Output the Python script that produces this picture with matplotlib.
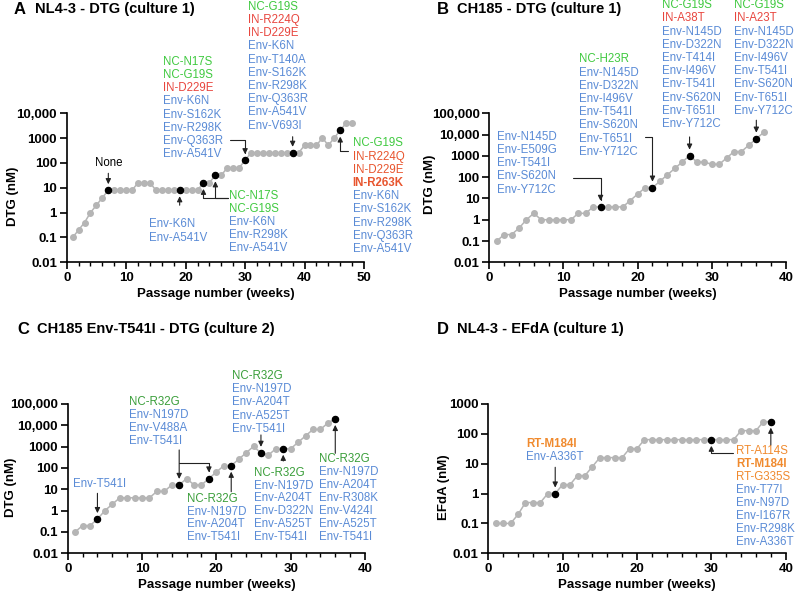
import numpy as np
from matplotlib import pyplot as plt
from matplotlib.ticker import NullLocator

plt.rcParams['font.family'] = ['Liberation Sans', 'DejaVu Sans']

W, H = 796, 593

# Drug concentration (nM) used at each weekly passage
weeks_a = np.arange(1, 49)
dtg_a = [0.1, 0.2, 0.4, 1, 2, 4, 8, 8, 8, 8, 8, 16, 16, 16, 8, 8, 8, 8, 8, 8, 8, 8,
         16, 16, 32, 32, 64, 64, 64, 128, 256, 256, 256, 256, 256, 256, 256, 256, 256,
         512, 512, 512, 1024, 512, 1024, 2048, 4096, 4096]
marked_a = [7, 19, 23, 25, 30, 38, 46]

weeks_b = np.arange(1, 38)
dtg_b = [0.1, 0.2, 0.2, 0.4, 1, 2, 1, 1, 1, 1, 1, 2, 2, 4, 4, 4, 4, 4, 8, 16, 32, 32,
         64, 128, 256, 512, 1024, 512, 512, 400, 400, 800, 1600, 1600, 3200, 6400, 12800]
marked_b = [15, 22, 27, 36]

weeks_c = np.arange(1, 37)
dtg_c = [0.1, 0.2, 0.2, 0.4, 1, 2, 4, 4, 4, 4, 4, 8, 8, 16, 16, 32, 16, 16, 32, 64,
         128, 128, 256, 512, 1024, 512, 400, 800, 800, 800, 1600, 3200, 6400, 6400, 12800, 20000]
marked_c = [4, 15, 19, 22, 26, 29, 36]

weeks_d = np.arange(1, 39)
efda_d = [0.1, 0.1, 0.1, 0.2, 0.5, 0.5, 0.5, 1, 1, 2, 2, 4, 4, 8, 16, 16, 16, 16, 32, 32,
          64, 64, 64, 64, 64, 64, 64, 64, 64, 64, 64, 64, 64, 128, 128, 128, 256, 256]
marked_d = [9, 30, 38]

yticks = [0.01, 0.1, 1, 10, 100, 1000, 10000, 100000]
yticklabels = ['0.01', '0.1', '1', '10', '100', '1000', '10,000', '100,000']

# Mutations found at the marked passages
muts_a7 = ['None']
muts_a19 = ['Env-K6N', 'Env-A541V']
muts_a25 = ['NC-N17S', 'NC-G19S', 'Env-K6N', 'Env-R298K', 'Env-A541V']
muts_a30 = ['NC-N17S', 'NC-G19S', 'IN-D229E', 'Env-K6N', 'Env-S162K', 'Env-R298K',
            'Env-Q363R', 'Env-A541V']
muts_a38 = ['NC-G19S', 'IN-R224Q', 'IN-D229E', 'Env-K6N', 'Env-T140A', 'Env-S162K',
            'Env-R298K', 'Env-Q363R', 'Env-A541V', 'Env-V693I']
muts_a46 = ['NC-G19S', 'IN-R224Q', 'IN-D229E', 'IN-R263K', 'Env-K6N', 'Env-S162K',
            'Env-R298K', 'Env-Q363R', 'Env-A541V']

muts_b15 = ['Env-N145D', 'Env-E509G', 'Env-T541I', 'Env-S620N', 'Env-Y712C']
muts_b22 = ['NC-H23R', 'Env-N145D', 'Env-D322N', 'Env-I496V', 'Env-T541I', 'Env-S620N',
            'Env-T651I', 'Env-Y712C']
muts_b27 = ['NC-G19S', 'IN-A38T', 'Env-N145D', 'Env-D322N', 'Env-T414I', 'Env-I496V',
            'Env-T541I', 'Env-S620N', 'Env-T651I', 'Env-Y712C']
muts_b36 = ['NC-G19S', 'IN-A23T', 'Env-N145D', 'Env-D322N', 'Env-I496V', 'Env-T541I',
            'Env-S620N', 'Env-T651I', 'Env-Y712C']

muts_c4 = ['Env-T541I']
muts_c15 = ['NC-R32G', 'Env-N197D', 'Env-V488A', 'Env-T541I']
muts_c22 = ['NC-R32G', 'Env-N197D', 'Env-A204T', 'Env-T541I']
muts_c26 = ['NC-R32G', 'Env-N197D', 'Env-A204T', 'Env-A525T', 'Env-T541I']
muts_c29 = ['NC-R32G', 'Env-N197D', 'Env-A204T', 'Env-D322N', 'Env-A525T', 'Env-T541I']
muts_c36 = ['NC-R32G', 'Env-N197D', 'Env-A204T', 'Env-R308K', 'Env-V424I', 'Env-A525T',
            'Env-T541I']

muts_d9 = ['RT-M184I', 'Env-A336T']
muts_d30 = ['RT-A114S', 'RT-M184I', 'RT-G335S', 'Env-T77I', 'Env-N97D', 'Env-I167R',
            'Env-R298K', 'Env-A336T']

GREY = '#b5b5b5'
COLOURS = {'NC': '#3fc93f', 'IN': '#e8463e', 'Env': '#5a8bd6', 'RT': '#f08a2e'}
BOLD = {'IN-R263K', 'RT-M184I'}

fig = plt.figure(figsize=(W / 100, H / 100), dpi=100)


def make_axes(left, top, right, bottom, xmax, ytop):
    ax = fig.add_axes([left / W, 1 - bottom / H, (right - left) / W, (bottom - top) / H])
    ax.set_yscale('log')
    ax.set_xlim(0, xmax)
    ax.set_ylim(0.01, ytop)
    n = yticks.index(ytop) + 1
    ax.set_yticks(yticks[:n])
    ax.set_yticklabels(yticklabels[:n])
    ax.yaxis.set_minor_locator(NullLocator())
    ax.set_xticks(np.arange(0, xmax + 1, 10))
    ax.set_xticks(np.arange(0, xmax + 1, 2), minor=True)
    ax.tick_params(which='major', length=5, width=1.2, labelsize=9.5, pad=2)
    ax.tick_params(which='minor', length=3, width=1.0)
    for lab in ax.get_xticklabels() + ax.get_yticklabels():
        lab.set_fontweight('bold')
    ax.spines[['top', 'right']].set_visible(False)
    ax.spines[['left', 'bottom']].set_linewidth(1.2)
    ax.patch.set_alpha(0)
    return ax


def draw_series(ax, weeks, values, marked):
    values = np.asarray(values, dtype=float)
    ax.plot(weeks, values, '-o', color=GREY, ms=4, lw=1.1, clip_on=False, zorder=2)
    sel = np.isin(weeks, marked)
    ax.plot(weeks[sel], values[sel], 'o', color='black', ms=4.4, clip_on=False, zorder=3)


def write_block(ax, week, value, names, dx, dy, palette=COLOURS, step=13.2, ha='left'):
    for i, name in enumerate(names):
        ax.annotate(name, (week, value), xytext=(dx, dy - i * step),
                    textcoords='offset pixels', ha=ha, va='center', fontsize=8.3,
                    color=palette.get(name.split('-')[0], 'black'),
                    fontweight='bold' if name in BOLD else 'normal')


def pointer(ax, week, value, start, elbow=False):
    style = 'angle,angleA=0,angleB=90,rad=0' if elbow else 'arc3'
    ax.annotate('', (week, value), xytext=start, textcoords='offset pixels',
                arrowprops=dict(arrowstyle='-|>,head_length=0.45,head_width=0.22',
                                color='#222222', lw=0.8, shrinkA=0, shrinkB=4.3,
                                mutation_scale=7, connectionstyle=style))


def value_at(weeks, values, week):
    return values[list(weeks).index(week)]


def finish(ax, ylabel, ylab_x, ylab_y):
    ax.set_xlabel('Passage number (weeks)', fontsize=9.5, fontweight='bold', va='center')
    ax.xaxis.set_label_coords(0.5, -0.214)
    ax.set_ylabel(ylabel, fontsize=9.5, fontweight='bold', va='center')
    ax.yaxis.set_label_coords(ylab_x, ylab_y)


def panel_title(x_letter, x_text, y, letter, text):
    fig.text(x_letter / W, 1 - y / H, letter, fontsize=12, fontweight='bold', va='center')
    fig.text(x_text / W, 1 - y / H, text, fontsize=10.5, fontweight='bold', va='center')


# ---- A: NL4-3 - DTG (culture 1)
ax = make_axes(66.7, 113.3, 364, 262.3, 50, 10000)
draw_series(ax, weeks_a, dtg_a, marked_a)
v = lambda w: value_at(weeks_a, dtg_a, w)
write_block(ax, 7, v(7), muts_a7, 0, 27.5, ha='center')
pointer(ax, 7, v(7), (0, 16.9))
write_block(ax, 19, v(19), muts_a19, -30.7, -34.1)
pointer(ax, 19, v(19), (0, -15))
write_block(ax, 25, v(25), muts_a25, 13.5, -20.4)
pointer(ax, 25, v(25), (13, -22.4), elbow=True)
pointer(ax, 23, v(23), (24.8, -15), elbow=True)
write_block(ax, 30, v(30), muts_a30, -81.8, 98.6)
pointer(ax, 30, v(30), (-15.1, 20.3), elbow=True)
write_block(ax, 38, v(38), muts_a38, -44.3, 146.1)
pointer(ax, 38, v(38), (0, 16.1))
write_block(ax, 46, v(46), muts_a46, 12.5, -12.9, palette=dict(COLOURS, IN='#e8552e'))
pointer(ax, 46, v(46), (8.1, -20.3), elbow=True)
finish(ax, 'DTG (nM)', -0.18, 0.445)
panel_title(14, 35, 9.5, 'A', 'NL4-3 - DTG (culture 1)')

# ---- B: CH185 - DTG (culture 1)
ax = make_axes(489.3, 113.3, 786, 262.3, 40, 100000)
draw_series(ax, weeks_b, dtg_b, marked_b)
v = lambda w: value_at(weeks_b, dtg_b, w)
write_block(ax, 15, v(15), muts_b15, -103.9, 70.1)
pointer(ax, 15, v(15), (-27.3, 29.1), elbow=True)
write_block(ax, 22, v(22), muts_b22, -73.2, 128.2)
pointer(ax, 22, v(22), (-7.5, 50.8), elbow=True)
write_block(ax, 27, v(27), muts_b27, -27.9, 150.4)
pointer(ax, 27, v(27), (0, 18.7))
write_block(ax, 36, v(36), muts_b36, -22, 133.5)
pointer(ax, 36, v(36), (0, 18.5))
finish(ax, 'DTG (nM)', -0.2, 0.523)
panel_title(436.7, 457.3, 9.5, 'B', 'CH185 - DTG (culture 1)')

# ---- C: CH185 Env-T541I - DTG (culture 2)
pal_c = dict(COLOURS, NC='#3a9e3a')
ax = make_axes(67.7, 404, 365, 553.3, 40, 100000)
draw_series(ax, weeks_c, dtg_c, marked_c)
v = lambda w: value_at(weeks_c, dtg_c, w)
write_block(ax, 4, v(4), muts_c4, -24.1, 34.8, palette=pal_c)
pointer(ax, 4, v(4), (0, 25.8))
write_block(ax, 15, v(15), muts_c15, -49.9, 83.3, palette=pal_c)
pointer(ax, 15, v(15), (0, 35))
pointer(ax, 19, v(19), (-29.7, 15.2), elbow=True)
write_block(ax, 22, v(22), muts_c22, -44.5, -33.6, palette=pal_c, step=12.6)
pointer(ax, 22, v(22), (0, -26))
write_block(ax, 26, v(26), muts_c26, -29.2, 76.9, palette=pal_c)
pointer(ax, 26, v(26), (0, 17.9))
write_block(ax, 29, v(29), muts_c29, -29.2, -24, palette=pal_c, step=12.8)
pointer(ax, 29, v(29), (0, -12.3))
write_block(ax, 36, v(36), muts_c36, -16.2, -40.4, palette=pal_c, step=12.9)
pointer(ax, 36, v(36), (0, -34.4))
finish(ax, 'DTG (nM)', -0.19, 0.445)
panel_title(17.3, 36.7, 329.3, 'C', 'CH185 Env-T541I - DTG (culture 2)')

# ---- D: NL4-3 - EFdA (culture 1)
ax = make_axes(488.3, 404, 785.7, 553.3, 40, 1000)
draw_series(ax, weeks_d, efda_d, marked_d)
v = lambda w: value_at(weeks_d, efda_d, w)
write_block(ax, 9, v(9), muts_d9, -29.2, 49.6, step=12.7)
pointer(ax, 9, v(9), (0, 26.3))
write_block(ax, 30, v(30), muts_d30, 24.8, -11, step=13.1)
pointer(ax, 30, v(30), (22.1, -13.6), elbow=True)
pointer(ax, 38, v(38), (0, -23.3))
finish(ax, 'EFdA (nM)', -0.15, 0.446)
panel_title(436.7, 457.3, 329.3, 'D', 'NL4-3 - EFdA (culture 1)')

fig.savefig('out.png', dpi=100)
